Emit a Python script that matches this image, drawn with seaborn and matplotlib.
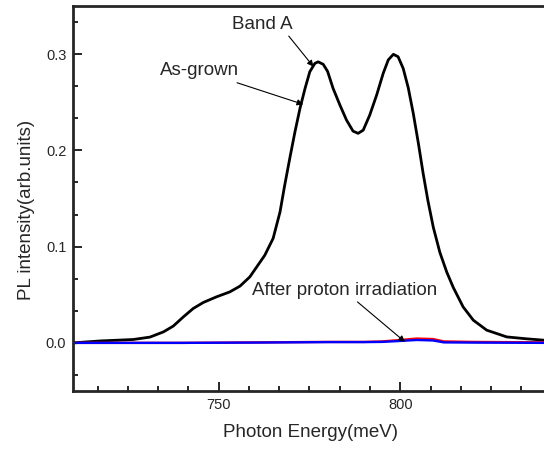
import matplotlib
matplotlib.use('Agg')
import matplotlib.pyplot as plt
from matplotlib.ticker import MultipleLocator
import numpy as np
import pandas as pd
import seaborn as sns

# as-grown spectrum (meV, arb. units)
energy_grown = [710.0, 717.4, 726.5, 731.1, 734.8, 737.5, 740.3, 743.0, 745.8, 749.4,
                753.1, 755.9, 758.6, 762.7, 765.0, 766.9, 768.2, 769.6, 771.0, 772.4,
                773.8, 775.1, 776.5, 777.4, 778.8, 780.0, 781.5, 783.4, 785.2, 787.0,
                788.4, 789.8, 791.6, 793.5, 795.3, 796.7, 798.1, 799.4, 800.8, 802.2,
                803.6, 805.0, 806.3, 807.6, 809.1, 810.9, 812.8, 814.6, 817.3, 820.1,
                823.8, 829.3, 834.8, 840.5]
pl_grown = [0.0, 0.002, 0.0035, 0.006, 0.0114, 0.0174, 0.027, 0.0357, 0.042, 0.0478,
            0.053, 0.059, 0.0686, 0.091, 0.1085, 0.136, 0.164, 0.192, 0.219, 0.2437,
            0.2645, 0.2817, 0.2904, 0.292, 0.2894, 0.282, 0.2645, 0.247, 0.2315, 0.220,
            0.2177, 0.221, 0.2367, 0.2575, 0.280, 0.294, 0.2998, 0.2973, 0.2852, 0.265,
            0.238, 0.207, 0.176, 0.148, 0.120, 0.094, 0.0735, 0.0575, 0.0374, 0.0236,
            0.0132, 0.0062, 0.0042, 0.0025]

# after proton irradiation (two measurements)
energy_irr = [710.0, 740.0, 760.0, 780.0, 790.0, 795.0, 800.0, 804.5, 809.0, 812.0, 820.0, 840.5]
pl_irr_red = [0.0, 0.0, 0.0005, 0.001, 0.001, 0.0015, 0.003, 0.0045, 0.004, 0.0015, 0.001, 0.0005]
pl_irr_blue = [0.0, 0.0, 0.0003, 0.0008, 0.0008, 0.001, 0.002, 0.003, 0.0025, 0.0005, 0.0003, 0.0]

sns.set_style('ticks')
plt.rcParams['font.family'] = ['Liberation Sans', 'DejaVu Sans']

fig = plt.figure(figsize=(5.44, 4.5), dpi=100)
ax = fig.add_axes([73.3 / 544, 1 - 391 / 450, 474.1 / 544, 385 / 450])

sns.lineplot(x=energy_grown, y=pl_grown, color='black', linewidth=2.0, ax=ax)
sns.lineplot(x=energy_irr, y=pl_irr_red, color='red', linewidth=1.7, ax=ax)
sns.lineplot(x=energy_irr, y=pl_irr_blue, color='blue', linewidth=1.7, ax=ax)

ax.set_xlim(710.0, 840.5)
ax.set_ylim(-0.05, 0.35)
ax.set_xticks([750, 800])
ax.set_yticks([0.0, 0.1, 0.2, 0.3])
ax.set_yticklabels(['0.0', '0.1', '0.2', '0.3'])
ax.xaxis.set_minor_locator(MultipleLocator(50 / 6))
ax.yaxis.set_minor_locator(MultipleLocator(0.1 / 3))
ax.tick_params(which='both', direction='in', width=1.4, labelsize=10.5)
ax.tick_params(which='major', length=6.2, pad=5)
ax.tick_params(which='minor', length=3.5)
for s in ax.spines.values():
    s.set_linewidth(2.0)

ax.set_xlabel('Photon Energy(meV)', fontsize=13.5, labelpad=9)
ax.set_ylabel('PL intensity(arb.units)', fontsize=13.5)
ax.yaxis.set_label_coords(-0.08, 0.47)

arrow = dict(arrowstyle='-|>', color='black', lw=0.8, mutation_scale=9, shrinkA=0, shrinkB=0)
ax.annotate('Band A', xy=(776.1, 0.287), xytext=(761.9, 0.331),
            ha='center', va='center', fontsize=13.5,
            arrowprops=dict(arrow, relpos=(0.9, 0.0)))
ax.annotate('As-grown', xy=(773.3, 0.2478), xytext=(744.7, 0.2825),
            ha='center', va='center', fontsize=13.5,
            arrowprops=dict(arrow, relpos=(0.85, 0.0)))
ax.annotate('After proton irradiation', xy=(801.3, 0.001), xytext=(784.6, 0.0548),
            ha='center', va='center', fontsize=13.5,
            arrowprops=dict(arrow, relpos=(0.55, 0.0)))

fig.savefig('out.png', dpi=100)
